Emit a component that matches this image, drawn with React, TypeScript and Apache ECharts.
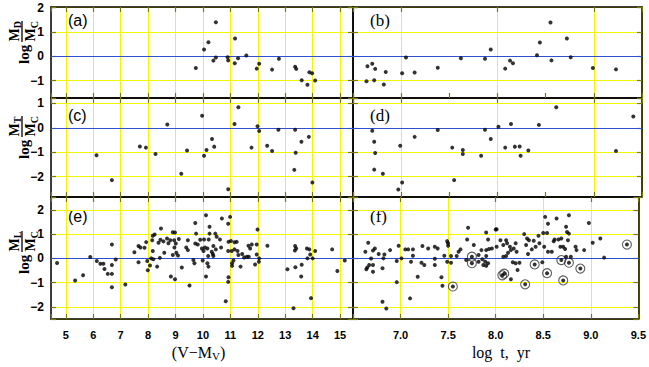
import { useEffect, useRef } from "react";
import * as echarts from "echarts";

// ---------- data ----------
// panel (a): x = (V - M_V), y = log M_D/M_C
const panelA: [number, number][] = [
  [9.74, -0.48], [10.04, 0.28], [10.2, 0.58], [10.47, 1.4], [10.38, -0.18], [10.47, -0.05],
  [10.9, -0.04], [10.92, -0.17], [11.17, 0.73], [11.16, -0.29], [11.28, -0.08], [11.58, 0.03],
  [11.96, -0.51], [12.05, -0.31], [12.52, -0.55], [12.77, -0.1], [13.36, -0.43], [13.4, -0.52],
  [13.6, -0.99], [13.81, -1.17], [13.88, -0.66], [13.98, -0.7], [14.09, -1.0],
];
// panel (b): x = log t, y = log M_D/M_C
const panelB: [number, number][] = [
  [6.65, -0.41], [6.7, -0.31], [6.73, -0.52], [6.64, -1.03], [6.72, -0.99], [6.82, -1.16],
  [6.84, -0.65], [7.01, -0.7], [7.05, -0.05], [7.14, -0.67], [7.38, -0.47], [7.62, -0.08],
  [7.87, -0.1], [7.93, 0.28], [8.08, -0.51], [8.13, -0.18], [8.16, -0.29], [8.41, 0.04],
  [8.44, 0.57], [8.55, 1.39], [8.56, -0.17], [8.72, 0.73], [8.76, -0.04], [8.99, -0.48], [9.23, -0.54],
];
// panel (c): x = (V - M_V), y = log M_T/M_C
const panelC: [number, number][] = [
  [6.12, -1.12], [6.68, -2.14], [7.7, -0.76], [7.92, -0.81], [8.27, -1.07], [8.7, 0.14],
  [9.21, -1.88], [9.42, -0.93], [9.97, 0.49], [10.04, -1.14], [10.13, -0.91], [10.33, -0.46],
  [10.41, -0.77], [10.92, -2.51], [11.15, 0.16], [11.29, 0.84], [11.77, -0.81], [11.99, 0.06],
  [12.05, -0.13], [12.34, -0.73], [12.52, -0.95], [12.75, -0.08], [13.36, -0.08], [13.33, -1.72],
  [13.38, -1.02], [13.59, -0.57], [13.86, -0.37], [13.99, -2.24],
];
// panel (d): x = log t, y = log M_T/M_C
const panelD: [number, number][] = [
  [6.7, -0.12], [6.72, -0.57], [6.73, -1.03], [6.72, -1.71], [6.81, -1.88], [6.97, -2.52],
  [7.01, -2.24], [6.99, -0.73], [7.14, -0.37], [7.38, -0.09], [7.53, -0.81], [7.55, -2.14],
  [7.64, -1.07], [7.64, -0.91], [7.83, -1.14], [7.87, -0.08], [7.93, -0.46], [8.01, 0.04],
  [8.08, -0.81], [8.14, 0.16], [8.18, -0.77], [8.23, -0.76], [8.24, -1.14], [8.32, -0.93],
  [8.43, 0.12], [8.61, 0.84], [9.23, -0.95], [9.41, 0.46],
];
// panel (e): x = (V - M_V), y = log M_L/M_C
const panelE: [number, number][] = [
  [4.68, -0.19], [5.34, -0.91], [5.63, -0.7], [5.89, 0.06], [6.13, -0.11], [6.26, -0.22],
  [6.37, -0.22], [6.41, -0.44], [6.53, -0.64], [6.68, -0.64], [6.68, -0.27], [6.68, 0.57],
  [6.82, -0.05], [6.68, -1.19], [7.17, -1.08], [7.5, 0.25], [7.65, 0.51], [7.72, 0.45],
  [7.65, -0.16], [7.87, 0.44], [7.93, 0.67], [7.97, -0.11], [7.99, -0.49], [8.07, -0.29],
  [8.11, 0.0], [8.17, 0.3], [8.19, -0.04], [8.15, 0.75], [8.17, 0.93], [8.24, 0.98],
  [8.33, -0.34], [8.38, 0.64], [8.45, 0.77], [8.47, 1.23], [8.43, 0.02], [8.56, 0.7],
  [8.59, 0.23], [8.69, 0.82], [8.74, 0.62], [8.81, 0.75], [8.83, -0.75], [8.9, 1.08],
  [8.98, 1.07], [8.95, 0.75], [9.01, 0.61], [8.96, 0.45], [8.9, 0.14], [9.03, 0.23],
  [9.09, 0.12], [9.12, 0.8], [8.98, -0.86], [9.23, -0.38], [9.39, 0.45], [9.45, 0.75],
  [9.51, -1.12], [9.45, 0.34], [9.65, -0.07], [9.69, -0.2], [9.72, 1.46], [9.75, 1.02],
  [9.72, 0.61], [9.81, 0.57],
  [10.11, 1.78], [10.24, 1.3], [10.24, 1.02], [9.9, 0.77], [10.04, 0.78], [10.21, 0.78],
  [10.45, 1.02], [10.5, 0.89], [10.62, 0.78], [9.96, 0.41], [10.07, 0.45], [10.16, 0.41],
  [10.02, 0.3], [10.19, 0.1], [10.32, 0.27], [10.36, 0.18], [10.38, 0.51], [10.47, 0.37],
  [10.38, 0.1], [9.99, -0.09], [10.16, -0.2], [10.2, -0.34], [10.11, -0.75], [10.69, 1.64],
  [10.92, 1.43], [10.99, 1.71], [10.66, 0.45], [10.93, 0.68], [11.02, 0.72], [11.15, 0.66],
  [11.23, 0.68], [10.92, 0.3], [11.05, 0.3], [11.15, 0.37], [11.26, 0.3], [11.29, 0.14],
  [11.11, -0.09], [11.06, -0.2], [11.06, -0.31], [11.37, -0.34], [10.93, -0.78], [10.92, -0.97],
  [10.83, -1.77], [11.43, 0.18], [11.5, 0.04], [11.6, 0.07], [11.67, 0.07], [11.66, 0.52],
  [11.72, 0.41], [11.78, 0.57], [11.99, 1.19], [11.96, 0.57], [11.96, 0.16], [12.05, 0.0],
  [12.04, -0.14], [11.9, -0.25], [12.35, 0.52], [13.08, -0.45], [13.36, 0.51], [13.4, 0.41],
  [13.35, 0.32], [13.37, -0.37], [13.3, -2.06], [13.58, -0.75], [13.6, -0.26], [13.79, 0.41],
  [13.88, 0.37], [13.91, 0.16], [13.81, 0.0], [14.0, 0.0], [14.09, 0.3], [13.94, -1.64],
  [14.71, 0.37], [14.9, -0.52], [15.17, -0.09],
];
// panel (f): x = log t, y = log M_L/M_C
const panelF: [number, number][] = [
  [6.66, 0.64], [6.63, 0.27], [6.69, -0.01], [6.71, 0.32], [6.73, 0.41], [6.77, 0.18],
  [6.82, 0.0], [6.83, 0.16], [6.89, 0.34], [6.96, -0.11], [6.98, 0.52], [7.01, 0.0],
  [7.05, 0.37], [7.08, 0.37], [7.13, 0.37], [7.13, 0.11], [7.11, -0.14], [7.23, 0.51],
  [7.29, 0.41], [7.36, 0.48], [7.39, 0.41], [7.36, -0.02], [7.22, -0.18], [7.25, -0.27],
  [7.36, -0.27], [6.65, -0.38], [6.64, -0.45], [6.67, -0.27], [6.71, -0.27], [6.71, -0.55],
  [6.81, -0.41], [6.96, -0.98], [6.81, -1.79], [6.85, -2.07], [7.1, -1.65], [7.18, -0.76],
  [7.43, -0.78], [7.44, -1.13], [7.46, 0.11], [7.49, 0.71], [7.5, 0.62], [7.5, 0.52],
  [7.49, -0.14], [7.53, 0.1], [7.53, -0.18], [7.59, 0.1], [7.61, 0.27], [7.63, 0.37],
  [7.7, 0.78], [7.71, 1.26], [7.69, -0.07], [7.77, 0.55], [7.82, 0.14], [7.85, 0.34],
  [7.9, 1.07], [7.92, 0.78], [7.9, 0.34], [7.93, 0.39], [7.96, 0.41], [7.9, 0.1],
  [7.86, -0.04], [7.89, -0.14], [7.92, -0.2], [8.0, 1.19], [7.82, -0.14], [7.87, -0.27],
  [7.9, -0.31],
  [8.01, 1.2], [8.01, 0.48], [8.05, 0.75], [8.08, 0.55], [8.11, 0.75], [8.12, 0.62],
  [8.15, 0.48], [8.16, 0.34], [8.13, 0.23], [8.19, 0.41], [8.21, 0.62], [8.22, 0.27],
  [8.08, 0.07], [8.11, 0.1], [8.18, -0.16], [8.21, -0.2], [8.25, -0.18], [8.23, -0.48],
  [8.16, -0.86], [8.3, 1.0], [8.33, 0.82], [8.34, 0.18], [8.32, 0.55], [8.35, 0.75],
  [8.38, 0.37], [8.4, 0.73], [8.42, 0.48], [8.45, 0.93], [8.46, 0.62], [8.49, -0.16],
  [8.5, 1.05], [8.52, 1.71], [8.54, 1.05], [8.55, 1.43], [8.55, 0.27], [8.59, 0.27],
  [8.51, 0.48], [8.61, 0.71], [8.64, 1.64], [8.62, 0.78], [8.66, 0.78], [8.68, 0.48],
  [8.69, 0.82], [8.71, 0.48], [8.74, 1.3], [8.75, 1.09], [8.77, 1.78], [8.77, 1.02],
  [8.76, 0.75], [8.74, 0.07], [8.79, 0.07], [8.73, 0.39], [8.84, 0.48], [8.85, 0.34],
  [8.93, 0.34], [8.98, 1.46], [9.02, 0.64], [9.1, 0.82], [9.14, 0.03],
];
// panel (f) encircled points
const panelFCircled: [number, number][] = [
  [7.75, 0.07], [7.75, -0.2], [7.55, -1.16], [8.41, -0.25], [8.54, -0.61], [8.69, -0.07],
  [8.77, -0.18], [8.89, -0.42], [8.71, -0.91], [8.31, -1.07], [9.38, 0.57], [8.07, -0.7],
  [8.09, -0.63],
];

// axis extents and tick labels
const leftXRange = [4.46, 15.47];
const rightXRange = [6.5, 9.5];
const rowYRanges = [[-1.72, 2.03], [-2.83, 1.22], [-2.5, 2.53]];
const leftXTicks = [5, 6, 7, 8, 9, 10, 11, 12, 13, 14, 15];
const rightXTicks = [7.0, 7.5, 8.0, 8.5, 9.0, 9.5];
const rowYTicks = [[-1, 0, 1, 2], [-2, -1, 0, 1], [-2, -1, 0, 1, 2]];
const panelLetters = ["(a)", "(b)", "(c)", "(d)", "(e)", "(f)"];
const ySubscripts = ["D", "T", "L"];

const YELLOW = "#f5f500";
const TICK = "#7a7a00";
const BLUE = "#2f4fd0";
const FRAME = "#000";

const COLS = [
  { left: 51, width: 302 },
  { left: 353, width: 289 },
];
const ROWS = [
  { top: 7, height: 91 },
  { top: 98, height: 99 },
  { top: 197, height: 122 },
];

const near = (list: number[], v: number) => list.find((t) => Math.abs(t - v) < 1e-6);

function buildOption() {
  const data = [panelA, panelB, panelC, panelD, panelE, panelF];
  const grid: any[] = [];
  const xAxis: any[] = [];
  const yAxis: any[] = [];
  const series: any[] = [];
  const graphic: any[] = [];
  const DOT = 4;

  for (let i = 0; i < 6; i++) {
    const col = i % 2;
    const row = Math.floor(i / 2);
    grid.push({ left: COLS[col].left, width: COLS[col].width, top: ROWS[row].top, height: ROWS[row].height, containLabel: false });
    const xr = col === 0 ? leftXRange : rightXRange;
    const yr = rowYRanges[row];
    const axisLine = { show: true, onZero: false, lineStyle: { color: FRAME, width: 1.5 } };
    const axisTick = { show: true, inside: true, length: 5, lineStyle: { color: TICK, width: 1.2 } };
    const split = (show: boolean) => ({ show, lineStyle: { color: YELLOW, width: 1 } });
    // bottom x
    xAxis.push({
      gridIndex: i, type: "value", position: "bottom", min: xr[0], max: xr[1],
      ...(col === 0 ? { splitNumber: 10 } : { interval: 0.5 }),
      axisLine, axisTick,
      splitLine: split(col === 0 || row === 2),
      axisLabel: row === 2
        ? {
            show: true, margin: 10, color: "#000", fontWeight: "bold", fontSize: 11, fontFamily: "Liberation Sans",
            formatter: (v: number) => {
              const t = near(col === 0 ? leftXTicks : rightXTicks, v);
              return t === undefined ? "" : col === 0 ? String(t) : t.toFixed(1);
            },
          }
        : { show: false },
    });
    // top x
    xAxis.push({
      gridIndex: i, type: "value", position: "top", min: xr[0], max: xr[1],
      splitNumber: col === 0 ? 10 : 3,
      axisLine, axisTick,
      splitLine: split(col === 1 && row < 2),
      axisLabel: { show: false },
    });
    // left y
    yAxis.push({
      gridIndex: i, type: "value", position: "left", min: yr[0], max: yr[1], splitNumber: 4,
      axisLine, axisTick, splitLine: split(true),
      axisLabel: col === 0
        ? {
            show: true, margin: 7, color: "#000", fontWeight: "bold", fontSize: 12, fontFamily: "Liberation Sans",
            formatter: (v: number) => {
              const t = near(rowYTicks[row], v);
              if (t === undefined) return "";
              return t < 0 ? "\u2212" + Math.abs(t) : String(t);
            },
          }
        : { show: false },
    });
    // right y
    yAxis.push({
      gridIndex: i, type: "value", position: "right", min: yr[0], max: yr[1], splitNumber: 4,
      axisLine, axisTick, splitLine: { show: false }, axisLabel: { show: false },
    });

    if (i === 5) {
      series.push({
        type: "scatter", xAxisIndex: 2 * i, yAxisIndex: 2 * i, data: panelFCircled,
        symbol: "circle", symbolSize: 9, silent: true, z: 3,
        itemStyle: { color: "rgba(0,0,0,0)", borderColor: "#333", borderWidth: 1.1 },
      });
      series.push({
        type: "scatter", xAxisIndex: 2 * i, yAxisIndex: 2 * i, data: panelFCircled,
        symbol: "circle", symbolSize: DOT, silent: true, z: 4, itemStyle: { color: "#000" },
      });
    }
    series.push({
      type: "scatter", xAxisIndex: 2 * i, yAxisIndex: 2 * i, data: data[i],
      symbol: "circle", symbolSize: DOT, silent: true, z: 4, itemStyle: { color: "#000" },
      markLine: {
        silent: true, symbol: "none", label: { show: false }, z: 2,
        lineStyle: { color: BLUE, width: 1.2, type: "solid" },
        data: [{ yAxis: 0 }],
      },
    });

    // panel letter
    graphic.push({
      type: "text",
      left: col === 0 ? 68 : 370,
      top: ROWS[row].top + (row === 0 ? 5 : row === 1 ? 9 : 11),
      style: {
        text: panelLetters[i],
        font: col === 0 ? '16px "Liberation Sans"' : '17px "Liberation Serif"',
        fill: "#000",
      },
    });
  }

  // rotated y titles: log (M_x / M_C)
  const titleY = [64, 159, 274];
  for (let r = 0; r < 3; r++) {
    const serif = '"Liberation Serif"';
    graphic.push({
      type: "group", x: 22, y: titleY[r], rotation: Math.PI / 2,
      children: [
        { type: "text", x: 0, y: 2, style: { text: "log", font: `bold 15px ${serif}`, textAlign: "left", textVerticalAlign: "middle", fill: "#000" } },
        { type: "text", x: 29, y: -8, style: { text: "M", font: `bold 14px ${serif}`, textAlign: "center", textVerticalAlign: "middle", fill: "#000" } },
        { type: "text", x: 35.8, y: -4.5, style: { text: ySubscripts[r], font: `bold 10px ${serif}`, textAlign: "left", textVerticalAlign: "middle", fill: "#000" } },
        { type: "line", shape: { x1: 22, y1: 0, x2: 43, y2: 0 }, style: { stroke: "#000", lineWidth: 1.3 } },
        { type: "text", x: 29, y: 8.5, style: { text: "M", font: `bold 14px ${serif}`, textAlign: "center", textVerticalAlign: "middle", fill: "#000" } },
        { type: "text", x: 35.8, y: 12, style: { text: "C", font: `bold 10px ${serif}`, textAlign: "left", textVerticalAlign: "middle", fill: "#000" } },
      ],
    });
  }

  // x titles
  graphic.push({
    type: "group", x: 212, y: 352,
    children: [
      { type: "text", x: 0, y: 0, style: { text: "(V\u2212M", font: '16px "Liberation Serif"', textAlign: "right", textVerticalAlign: "middle", fill: "#000" } },
      { type: "text", x: 0, y: 4, style: { text: "V", font: '11px "Liberation Serif"', textAlign: "left", textVerticalAlign: "middle", fill: "#000" } },
      { type: "text", x: 8, y: 0, style: { text: ")", font: '16px "Liberation Serif"', textAlign: "left", textVerticalAlign: "middle", fill: "#000" } },
    ],
  });
  graphic.push({
    type: "text", x: 501, y: 352,
    style: { text: "log  t,  yr", font: '16px "Liberation Serif"', textAlign: "center", textVerticalAlign: "middle", fill: "#000" },
  });

  return {
    animation: false,
    backgroundColor: "#fff",
    grid, xAxis, yAxis, series, graphic,
  };
}

export default function App() {
  const ref = useRef<HTMLDivElement>(null);
  useEffect(() => {
    if (!ref.current) return;
    const chart = echarts.init(ref.current, undefined, { renderer: "svg" });
    chart.setOption(buildOption() as any);
    return () => chart.dispose();
  }, []);
  return (
    <div
      ref={ref}
      style={{ position: "fixed", left: 0, top: 0, width: 649, height: 367, background: "#fff" }}
    />
  );
}
